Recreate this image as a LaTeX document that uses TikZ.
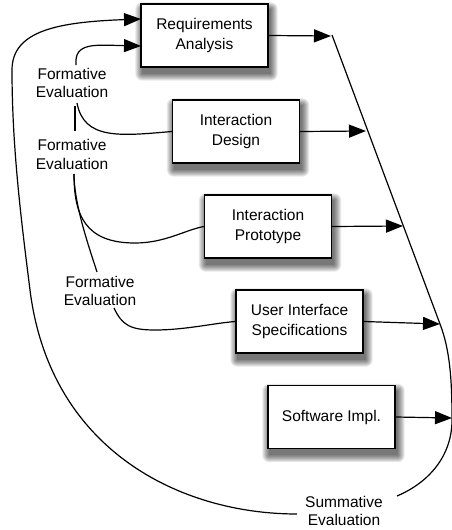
\documentclass[tikz,border=0pt]{standalone}
\usepackage{fontspec}
\setmainfont{Liberation Sans}
\usetikzlibrary{arrows.meta,backgrounds}

\begin{document}
\begin{tikzpicture}[x=1pt,y=-1pt,
  stage/.style={draw,line width=1.4pt,fill=white,minimum width=127pt,minimum height=63pt,
    inner sep=0pt,align=center,font=\fontsize{15.5}{19.5}\selectfont},
  shadowlayer/.style={fill=black,fill opacity=0.09},
  evallbl/.style={align=center,inner sep=1pt,font=\fontsize{15.5}{18.5}\selectfont},
  flow/.style={line width=1.2pt},
  tip/.style={-{Triangle[length=17pt,width=13pt]}},
]
\useasboundingbox (0,0) rectangle (452,530);
\clip (0,0) rectangle (452,530);

% development stages
\node[stage] (ra)  at (204.5,35.5) {Requirements\\Analysis};
\node[stage] (id)  at (236,131.5)  {Interaction\\Design};
\node[stage] (ip)  at (268,226.5)  {Interaction\\Prototype};
\node[stage] (uis) at (299.5,321.5) {User Interface\\Specifications};
\node[stage] (si)  at (331.5,417)  {Software Impl.};

% soft shadows under the stage boxes
\begin{pgfonlayer}{background}
\foreach \n in {ra,id,ip,uis,si}{
  \foreach \r in {7,6,5,4,3,2,1,0}{
    \fill[shadowlayer,rounded corners=\r pt]
      ([xshift=2pt-\r pt,yshift=-6pt-\r pt]\n.south west) rectangle
      ([xshift=2pt+\r pt,yshift=-6pt+\r pt]\n.north east);
  }
}
\end{pgfonlayer}

% evaluation labels
\node[evallbl] (fe1) at (72,83)    {Formative\\Evaluation};
\node[evallbl] (fe2) at (72,154.5) {Formative\\Evaluation};
\node[evallbl] (fe3) at (100,291)  {Formative\\Evaluation};
\node[evallbl] (sum) at (344,511)  {Summative\\Evaluation};

% points on the collecting line at the right
\coordinate (top) at (332,35);
\coordinate (j1) at (331,36);
\coordinate (j2) at (366,131);
\coordinate (j3) at (403,226);
\coordinate (j4) at (440,324);
\coordinate (j5) at (452,418);
\coordinate (bend) at (397,496);

% collecting line down to the summative evaluation
\draw[flow] (top) -- (j4) .. controls (450,350) and (452,380) .. (452,420)
  .. controls (452,455) and (430,482) .. (bend);

% outputs of each stage
\draw[flow,tip] (ra.east)  -- (j1);
\draw[flow,tip] (id.east)  -- (j2);
\draw[flow,tip] (ip.east)  -- (j3);
\draw[flow,tip] (uis.east) -- (j4);
\draw[flow,tip] (si.east)  -- (j5);

% summative loop back to requirements
\coordinate (loopstart) at (297,514);
\coordinate (rain1) at (141,19);
\draw[flow,tip] (loopstart) .. controls (180,514) and (50,450) .. (30,290)
  .. controls (22,226) and (12,150) .. (12,70)
  .. controls (12,30) and (60,22) .. (rain1);

% formative evaluation feedback
\coordinate (fe1top) at (76,65);
\coordinate (rain2) at (141,46);
\draw[flow,tip] (fe1top) .. controls (74,42) and (95,45) .. (rain2);

\coordinate (fe1bot) at (77,103);
\draw[flow] (fe1bot) .. controls (84,140) and (120,136) .. (id.west);
\coordinate (fe1down) at (75,106);
\coordinate (fe2up) at (75,131);
\draw[flow] (fe1down) -- (fe2up);

\coordinate (fe2bot) at (74,174);
\draw[flow] (fe2bot) .. controls (74,215) and (85,243) .. (135,243)
  .. controls (165,243) and (185,230) .. (ip.west);
\coordinate (fe3up) at (97,272);
\draw[flow] (fe2bot) .. controls (74,205) and (90,250) .. (fe3up);

\coordinate (fe3bot) at (114,308);
\draw[flow] (fe3bot) .. controls (122,325) and (130,330) .. (155,330)
  .. controls (185,330) and (215,323) .. (uis.west);
\end{tikzpicture}
\end{document}
